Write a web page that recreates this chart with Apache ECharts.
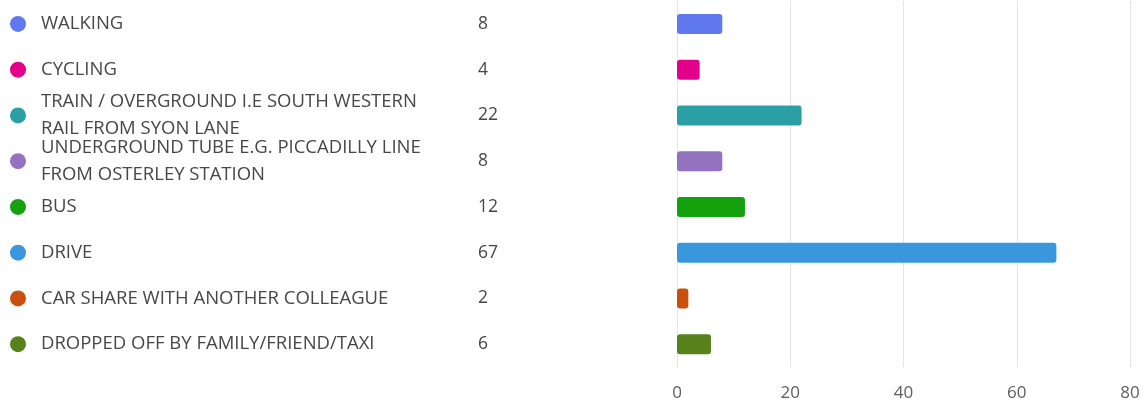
<!DOCTYPE html>
<html>
<head>
<meta charset="utf-8">
<script src="https://cdn.jsdelivr.net/npm/echarts@6/dist/echarts.min.js"></script>
<style>
html,body{margin:0;padding:0;background:#fff;}
#chart{width:1145px;height:400px;}
</style>
</head>
<body>
<div id="chart"></div>
<script>
const categories = [
  "WALKING",
  "CYCLING",
  "TRAIN / OVERGROUND I.E SOUTH WESTERN\nRAIL FROM SYON LANE",
  "UNDERGROUND TUBE E.G. PICCADILLY LINE\nFROM OSTERLEY STATION",
  "BUS",
  "DRIVE",
  "CAR SHARE WITH ANOTHER COLLEAGUE",
  "DROPPED OFF BY FAMILY/FRIEND/TAXI"
];
const values = [8, 4, 22, 8, 12, 67, 2, 6];
const colors = ["#6179EE", "#E3008C", "#2AA0A4", "#9373C0", "#13A10E", "#3A96DD", "#CA5010", "#57811B"];
const xTicks = [0, 20, 40, 60, 80];

const FONT = "Open Sans";
const TEXT = "#474747";

const dotRich = {};
colors.forEach((c, i) => {
  dotRich['d' + i] = { width: 16, height: 16, borderRadius: 8, backgroundColor: c };
});

const chart = echarts.init(document.getElementById('chart'), null, { renderer: 'canvas' });
chart.setOption({
  animation: false,
  grid: { left: 677, right: 15, top: 1, bottom: 33, containLabel: false, outerBoundsMode: 'none' },
  xAxis: {
    type: 'value', min: xTicks[0], max: xTicks[xTicks.length - 1], interval: 20,
    axisLine: { show: false }, axisTick: { show: false },
    splitLine: { show: true, lineStyle: { color: '#e3e3e3', width: 1 } },
    axisLabel: { color: '#605e5c', fontFamily: FONT, fontSize: 17, margin: 18,
      formatter: v => xTicks.includes(v) ? String(v) : '' }
  },
  yAxis: [
    {
      type: 'category', data: categories, inverse: true, position: 'left',
      axisLine: { show: true, lineStyle: { color: '#e3e3e3' } },
      axisTick: { show: false },
      axisLabel: { align: 'left', margin: 636, color: TEXT, fontFamily: FONT, fontSize: 18.5, lineHeight: 27,
        padding: [9, 0, 0, 0] }
    },
    {
      type: 'category', data: categories, inverse: true, position: 'left',
      axisLine: { show: false }, axisTick: { show: false },
      axisLabel: { align: 'left', margin: 199, color: TEXT, fontFamily: FONT, fontSize: 17.5,
        padding: [4, 0, 0, 0],
        formatter: (v, i) => String(values[i]) }
    },
    {
      type: 'category', data: categories, inverse: true, position: 'left',
      axisLine: { show: false }, axisTick: { show: false },
      axisLabel: { align: 'left', margin: 667,
        formatter: (v, i) => '{d' + i + '|}', rich: dotRich }
    }
  ],
  series: [{
    type: 'bar', yAxisIndex: 0,
    data: values.map((v, i) => ({ value: v, itemStyle: { color: colors[i] } })),
    barWidth: 20,
    itemStyle: { borderRadius: 3 }
  }]
});
</script>
</body>
</html>
